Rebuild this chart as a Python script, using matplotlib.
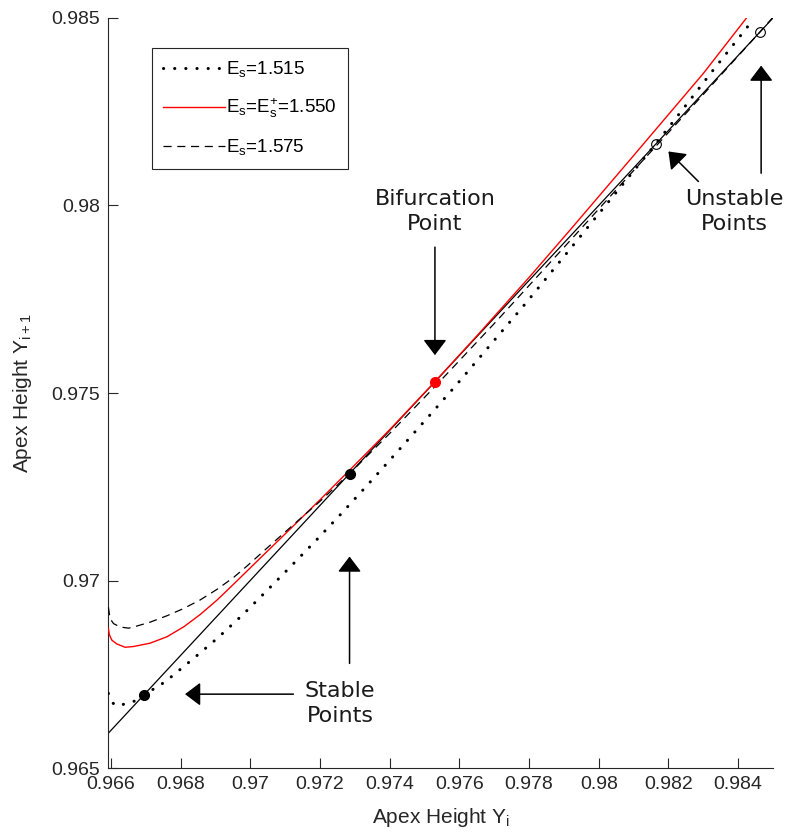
import matplotlib
matplotlib.use('Agg')
import matplotlib.pyplot as plt

plt.rcParams['font.family'] = ['Liberation Sans', 'DejaVu Sans']
plt.rcParams['mathtext.fontset'] = 'custom'
plt.rcParams['mathtext.rm'] = 'Liberation Sans'
plt.rcParams['mathtext.it'] = 'Liberation Sans'

# return map data (apex height Y_i -> Y_i+1)
x_low = [0.96593, 0.96600, 0.96606, 0.96620, 0.96640, 0.96670, 0.96694, 0.96756, 0.96832,
         0.96907, 0.96980, 0.97050, 0.97122, 0.97191, 0.97258, 0.97327, 0.97392, 0.97459,
         0.97524, 0.97591, 0.97655, 0.97719, 0.97784, 0.97846, 0.97910, 0.97973, 0.98038,
         0.98079, 0.98160, 0.98240, 0.98325, 0.98430]
y_low = [0.96699, 0.96685, 0.96673, 0.96665, 0.96671, 0.96679, 0.96694, 0.96730, 0.96788,
         0.96847, 0.96910, 0.96975, 0.97043, 0.97109, 0.97175, 0.97245, 0.97312, 0.97382,
         0.97450, 0.97521, 0.97591, 0.97661, 0.97732, 0.97802, 0.97875, 0.97947, 0.98021,
         0.98068, 0.98160, 0.98255, 0.98357, 0.98480]

x_mid = [0.96593, 0.96596, 0.96603, 0.96617, 0.96641, 0.96665, 0.96713, 0.96761, 0.96810,
         0.96856, 0.96905, 0.96952, 0.97017, 0.97100, 0.97200, 0.97300, 0.97400, 0.97530,
         0.97650, 0.97800, 0.97920, 0.98100, 0.98300, 0.98424]
y_mid = [0.96872, 0.96855, 0.96841, 0.96831, 0.96822, 0.96824, 0.96833, 0.96850, 0.96877,
         0.96909, 0.96948, 0.96990, 0.97049, 0.97124, 0.97215, 0.97308, 0.97402, 0.97530,
         0.97652, 0.97808, 0.97937, 0.98133, 0.98352, 0.98500]

x_high = [0.96593, 0.96598, 0.96608, 0.96627, 0.96651, 0.96665, 0.96713, 0.96761, 0.96808,
          0.96856, 0.96904, 0.96952, 0.96990, 0.97050, 0.97140, 0.97200, 0.97285, 0.97400,
          0.97530, 0.97700, 0.97900, 0.98100, 0.98300, 0.98460, 0.98500]
y_high = [0.96929, 0.96898, 0.96885, 0.96876, 0.96873, 0.96876, 0.96889, 0.96906, 0.96925,
          0.96948, 0.96976, 0.97008, 0.97038, 0.97088, 0.97162, 0.97211, 0.97285, 0.97392,
          0.97517, 0.97685, 0.97888, 0.98093, 0.98296, 0.98460, 0.98502]

identity = [0.9655, 0.9855]

stable_pts = [0.96694, 0.97285]
bifurcation_pt = 0.97530
unstable_pts = [0.98165, 0.98463]

labels = ['E$_\\mathrm{s}$=1.515', 'E$_\\mathrm{s}$=E$_\\mathrm{s}^\\mathrm{+}$=1.550', 'E$_\\mathrm{s}$=1.575']
xticks = [0.966, 0.968, 0.970, 0.972, 0.974, 0.976, 0.978, 0.980, 0.982, 0.984]
yticks = [0.965, 0.970, 0.975, 0.980, 0.985]

dark = '#262626'

fig = plt.figure(figsize=(7.85, 8.36), dpi=100)
ax = fig.add_axes([0.1376, 0.0813, 0.8471, 0.8972])

ax.plot(identity, identity, color='k', lw=0.9, zorder=2)
l1, = ax.plot(x_low, y_low, color='k', lw=2.2, linestyle=(0, (0.05, 3.6)),
              dash_capstyle='round', zorder=3)
l2, = ax.plot(x_mid, y_mid, color='#ff0000', lw=1.0, zorder=3)
l3, = ax.plot(x_high, y_high, color='k', lw=0.9, linestyle=(0, (6.5, 4.5)), zorder=3)

ax.plot(stable_pts, stable_pts, 'o', color='k', ms=7, zorder=5)
ax.plot([bifurcation_pt], [bifurcation_pt], 'o', color='#ff0000', ms=7, zorder=5)
ax.plot(unstable_pts, unstable_pts, 'o', mfc='none', mec='k', mew=0.8, ms=7, zorder=5)

arrow = dict(arrowstyle='-|>,head_length=0.95,head_width=0.72', color='k', lw=1.1,
             mutation_scale=10, shrinkA=0, shrinkB=0)
txt = dict(fontsize=16, family='DejaVu Sans', ha='center', va='center', color='#1a1a1a',
           linespacing=1.3)

ax.text(0.97530, 0.97984, 'Bifurcation\nPoint', **txt)
ax.annotate('', xy=(0.97530, 0.97601), xytext=(0.97530, 0.97889), arrowprops=arrow)

ax.text(0.97258, 0.96673, 'Stable\nPoints', **txt)
ax.annotate('', xy=(0.96813, 0.96697), xytext=(0.97124, 0.96697), arrowprops=arrow)
ax.annotate('', xy=(0.97285, 0.97064), xytext=(0.97285, 0.96779), arrowprops=arrow)

ax.text(0.98390, 0.97984, 'Unstable\nPoints', **txt)
ax.annotate('', xy=(0.98200, 0.98144), xytext=(0.98286, 0.98064), arrowprops=arrow)
ax.annotate('', xy=(0.98466, 0.98373), xytext=(0.98466, 0.98086), arrowprops=arrow)

ax.set_xlim(0.96592, 0.98500)
ax.set_ylim(0.965, 0.985)
ax.set_xticks(xticks)
ax.set_yticks(yticks)
ax.set_xticklabels(['%g' % v for v in xticks])
ax.set_yticklabels(['%g' % v for v in yticks])
ax.tick_params(direction='in', length=7, width=0.8, colors=dark, labelsize=14, pad=6)
for s in ['top', 'right']:
    ax.spines[s].set_visible(False)
for s in ['left', 'bottom']:
    ax.spines[s].set_color(dark)
    ax.spines[s].set_linewidth(0.8)

ax.set_xlabel('Apex Height Y$_\\mathrm{i}$', fontsize=15, color=dark, labelpad=9)
ax.set_ylabel('Apex Height Y$_\\mathrm{i+1}$', fontsize=15, color=dark, labelpad=12)

leg = ax.legend([l1, l2, l3], labels, loc='upper left', bbox_to_anchor=(0.066, 0.96),
                borderaxespad=0, fontsize=13.5, handlelength=3.3, handletextpad=0.05,
                labelspacing=0.92, fancybox=False, framealpha=1, borderpad=0.6)
leg.get_frame().set_edgecolor(dark)
leg.get_frame().set_linewidth(0.8)

fig.savefig('out.png', dpi=100)
